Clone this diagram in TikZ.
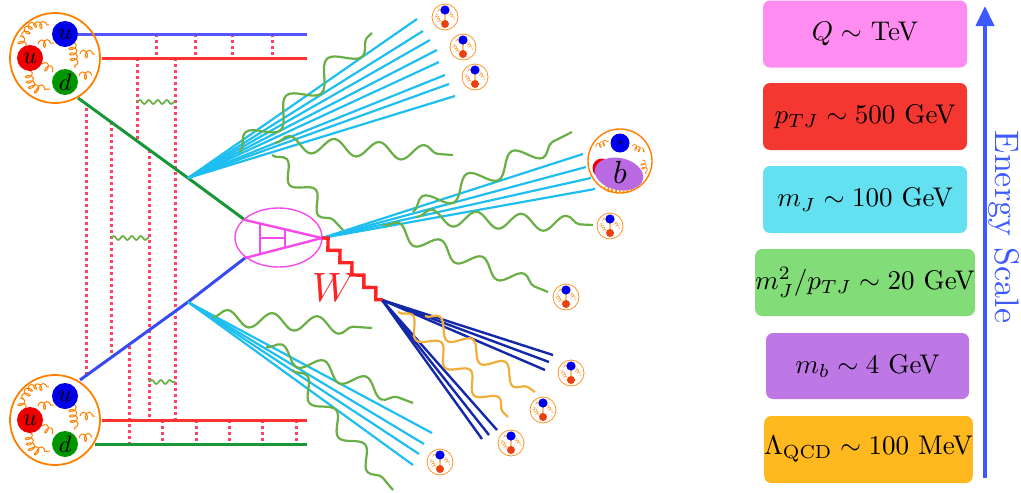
\documentclass[tikz,border=0pt]{standalone}
\usepackage{graphicx}
\usetikzlibrary{decorations.pathmorphing,arrows.meta}

\definecolor{qblue}{RGB}{0,0,235}
\definecolor{qred}{RGB}{238,0,0}
\definecolor{qgreen}{RGB}{0,150,0}
\definecolor{porange}{RGB}{255,128,0}
\definecolor{lineblue}{RGB}{85,85,255}
\definecolor{lineblueb}{RGB}{55,75,240}
\definecolor{linered}{RGB}{255,50,50}
\definecolor{linegreen}{RGB}{25,150,55}
\definecolor{dotred}{RGB}{255,65,100}
\definecolor{jetcyan}{RGB}{30,190,240}
\definecolor{jetnavy}{RGB}{20,40,170}
\definecolor{gluongreen}{RGB}{105,175,70}
\definecolor{gluonorange}{RGB}{240,175,60}
\definecolor{vmagenta}{RGB}{245,75,235}
\definecolor{wred}{RGB}{255,35,35}
\definecolor{mesonred}{RGB}{235,65,15}
\definecolor{bpurple}{RGB}{185,105,225}
\definecolor{scaleblue}{RGB}{60,90,255}
\definecolor{boxpink}{RGB}{255,140,240}
\definecolor{boxred}{RGB}{245,55,50}
\definecolor{boxcyan}{RGB}{100,225,240}
\definecolor{boxgreen}{RGB}{130,220,120}
\definecolor{boxpurple}{RGB}{190,120,230}
\definecolor{boxorange}{RGB}{255,185,30}

% text set at 10pt and enlarged by a factor
\newcommand{\enl}[2]{\scalebox{#1}{#2}}

\tikzset{
  gcoil/.style={porange, line width=1pt, decorate,
    decoration={coil, aspect=0.6, segment length=5.5pt, amplitude=3.8pt}},
  mcoil/.style={porange!75, line width=0.45pt, decorate,
    decoration={coil, aspect=0.6, segment length=2.4pt, amplitude=1.6pt}},
  quarklabel/.style={inner sep=0pt},
  proton/.pic={
    \draw[porange, line width=1.8pt] (0,0) circle (45);
    \draw[gcoil] (-31,-20) .. controls (-26,-32) .. (-6,-33);
    \draw[gcoil] (-35,-22) -- (-31,-8);
    \draw[gcoil] (-17,-14) -- (-1,-15);
    \draw[gcoil] (17,-16) -- (20,10);
    \draw[gcoil] (25,-4) -- (40,-4);
    \draw[gcoil] (-27,12) .. controls (-24,30) .. (-5,31);
    \draw[gcoil] (-13,6) -- (-2,14);
    \draw[gcoil] (24,18) -- (37,17);
    \fill[qblue] (10,-24) circle (13);
    \fill[qred] (-25,0) circle (13);
    \fill[qgreen] (10,24) circle (13);
    \node[quarklabel] (-ublue) at (10,-24) {\enl{2.4}{$u$}};
    \node[quarklabel] (-ured) at (-25,0) {\enl{2.4}{$u$}};
    \node[quarklabel] (-dgreen) at (10,24) {\enl{2.4}{$d$}};
  },
  meson/.pic={
    \draw[porange!85, line width=0.8pt] (0,0) circle (13);
    \draw[mcoil] (-10,-3) -- (-4,6);
    \draw[mcoil] (4,-5) -- (10,3);
    \draw[mcoil] (-8,-9) -- (-3,-4);
    \draw[porange!50, line width=1.5pt] (0,-7) -- (0,7);
    \fill[qblue] (0,-7) circle (4.6);
    \fill[mesonred] (0,7) circle (4);
  },
  quarkline/.style={line width=3pt},
  colorline/.style={dotred, line width=3pt, dash pattern=on 3pt off 3pt},
  jet/.style={jetcyan, line width=2.2pt},
  wjet/.style={jetnavy, line width=2.4pt},
  gluon/.style={gluongreen, line width=2.2pt, decorate,
    decoration={snake, segment length=45pt, amplitude=8pt}},
  softgluon/.style={gluonorange, line width=2.2pt, decorate,
    decoration={snake, segment length=40pt, amplitude=8pt}},
  tinygluon/.style={gluongreen, line width=1.7pt, decorate,
    decoration={snake, segment length=9pt, amplitude=2pt}},
  scalebox/.style={rounded corners=7pt, minimum width=204pt, minimum height=67pt,
    inner sep=0pt},
}

\begin{document}
\begin{tikzpicture}[x=1pt,y=-1pt]
\useasboundingbox (0,0) rectangle (1021,493);

% key points of the hard process
\coordinate (jU) at (188,178);
\coordinate (jL) at (188,302);
\coordinate (gA) at (245,220);
\coordinate (bA) at (245,258);
\coordinate (tip) at (322,238);
\coordinate (wE) at (382,300);

% colour-connection (dotted) lines
\draw[colorline] (86,108) -- (86,376);
\draw[colorline] (111,122) -- (111,355);
\draw[colorline] (137,58) -- (137,141);
\draw[colorline] (149,150) -- (149,420);
\draw[colorline] (175,58) -- (175,420);
\draw[colorline] (129,346) -- (129,444);
\foreach \x in {156,195,232,272} \draw[colorline] (\x,34) -- (\x,58);
\foreach \x in {162,196,229,262,296} \draw[colorline] (\x,420) -- (\x,444);

% small exchanges between the colour lines
\draw[tinygluon] (137,102) -- (175,102);
\draw[tinygluon] (111,238) -- (149,238);
\draw[tinygluon] (149,382) -- (175,382);

% parton lines leaving the protons
\draw[quarkline, lineblue] (78,34) -- (307,34);
\draw[quarkline, linered] (102,58) -- (307,58);
\draw[quarkline, linegreen] (78,98) -- (jU) -- (gA);
\draw[quarkline, lineblueb] (80,380) -- (jL) -- (bA);
\draw[quarkline, linered] (102,420) -- (307,420);
\draw[quarkline, linegreen] (95,444) -- (307,444);

% protons
\pic (ptop) at (55,58) {proton};
\pic (pbot) at (55,420) {proton};

% upper initial-state jet
\foreach \x/\y [count=\i] in {417/19,423/31,430/40,437/50,439/62,445/75,449/84,455/96}
  \coordinate (ju\i) at (\x,\y);
\foreach \i in {1,...,8} \draw[jet] (jU) -- (ju\i);

% lower initial-state jet
\foreach \x/\y [count=\i] in {432/433,424/444,419/454,413/465}
  \coordinate (jl\i) at (\x,\y);
\foreach \i in {1,...,4} \draw[jet] (jL) -- (jl\i);

% b jet
\foreach \x/\y [count=\i] in {583/154,586/167,591/178,595/189}
  \coordinate (jb\i) at (\x,\y);
\foreach \i in {1,...,4} \draw[jet] (tip) -- (jb\i);

% W decay jet
\foreach \x/\y [count=\i] in {553/355,549/362,545/370,497/430,489/435,482/439}
  \coordinate (jw\i) at (\x,\y);
\foreach \i in {1,...,6} \draw[wjet] (wE) -- (jw\i);

% radiated gluons
\draw[gluon, decoration={segment length=55pt, amplitude=11pt}] (240,152) -- (372,33);
\draw[gluon] (275,143) -- (453,155);
\draw[gluon, decoration={segment length=42pt}] (272,155) -- (343,230);
\draw[gluon, decoration={segment length=50pt, amplitude=10pt}] (413,212) -- (572,132);
\draw[gluon] (417,217) -- (593,225);
\draw[gluon] (383,225) -- (548,292);
\draw[gluon] (213,317) -- (372,328);
\draw[gluon] (266,347) -- (413,403);
\draw[gluon] (292,370) -- (393,490);
\draw[softgluon] (398,312) -- (508,417);
\draw[softgluon] (425,316) -- (535,392);

% hard vertex
\draw[vmagenta, line width=1.4pt] (278.5,237.5) ellipse [x radius=43.5, y radius=29.5];
\draw[vmagenta, line width=2.4pt] (gA) -- (tip) -- (bA);
\draw[vmagenta, line width=2.4pt] (260,222.7) -- (260,253.7) (285,228.9) -- (285,247.4)
  (260,238) -- (285,238);

% W boson
\draw[wred, line width=3.4pt, decorate,
  decoration={zigzag, segment length=17.2pt, amplitude=4.3pt}] (tip) -- (wE);
\node[text=wred, inner sep=0pt] (wlab) at (334,287) {\enl{4.1}{$W$}};

% hadrons
\foreach \x/\y [count=\i] in {445/17,463/47,475/77,566/297,610/226,571/373,543/410,511/443,440/462}
  \pic (h\i) at (\x,\y) {meson};

% b hadron
\coordinate (bh) at (620,161);
\draw[porange, line width=1.4pt] (bh) circle (32);
\draw[gcoil, decoration={segment length=3.8pt, amplitude=2.6pt}, line width=0.7pt] (596,147) -- (609,141);
\draw[gcoil, decoration={segment length=3.8pt, amplitude=2.6pt}, line width=0.7pt] (632,146) -- (645,152);
\draw[gcoil, decoration={segment length=3.8pt, amplitude=2.6pt}, line width=0.7pt] (642,160) -- (646,174);
\draw[gcoil, decoration={segment length=3.8pt, amplitude=2.6pt}, line width=0.7pt] (604,189) -- (632,190);
\fill[qred] (602,168) circle (9.5);
\fill[qblue] (620,143) circle (9.5);
\node[inner sep=0pt] (bu) at (620,143) {\enl{0.9}{$u$}};
\fill[bpurple, rotate around={-12:(619,174)}] (619,174) ellipse [x radius=24.5, y radius=16];
\node[inner sep=0pt] (blab) at (620,172) {\enl{3.2}{$b$}};

% energy scales
\node[scalebox, fill=boxpink] (sQ) at (865,34) {\enl{2.7}{$Q\sim$ TeV}};
\node[scalebox, fill=boxred] (sPT) at (865,116.5) {\enl{2.7}{$p_{TJ}\sim 500$ GeV}};
\node[scalebox, fill=boxcyan] (sMJ) at (865,199.5) {\enl{2.7}{$m_J\sim 100$ GeV}};
\node[scalebox, fill=boxgreen] (sR) at (865,282.5) {\enl{2.7}{$m_J^2/p_{TJ}\sim 20$ GeV}};
\node[scalebox, fill=boxpurple, minimum width=203pt, minimum height=66pt] (sB) at (867.5,366) {\enl{2.7}{$m_b\sim 4$ GeV}};
\node[scalebox, fill=boxorange, minimum width=203pt] (sL) at (868.5,449.5) {\enl{2.7}{$\Lambda_{\rm QCD}\sim 100$ MeV}};

% energy axis
\coordinate (ab) at (985,478);
\coordinate (at) at (985,6);
\draw[scaleblue, line width=4pt, -{Triangle[width=18pt,length=20pt]}] (ab) -- (at);
\node[text=scaleblue, rotate=-90, inner sep=0pt] (elab) at (1004,227) {\enl{3.4}{Energy Scale}};
\end{tikzpicture}
\end{document}
